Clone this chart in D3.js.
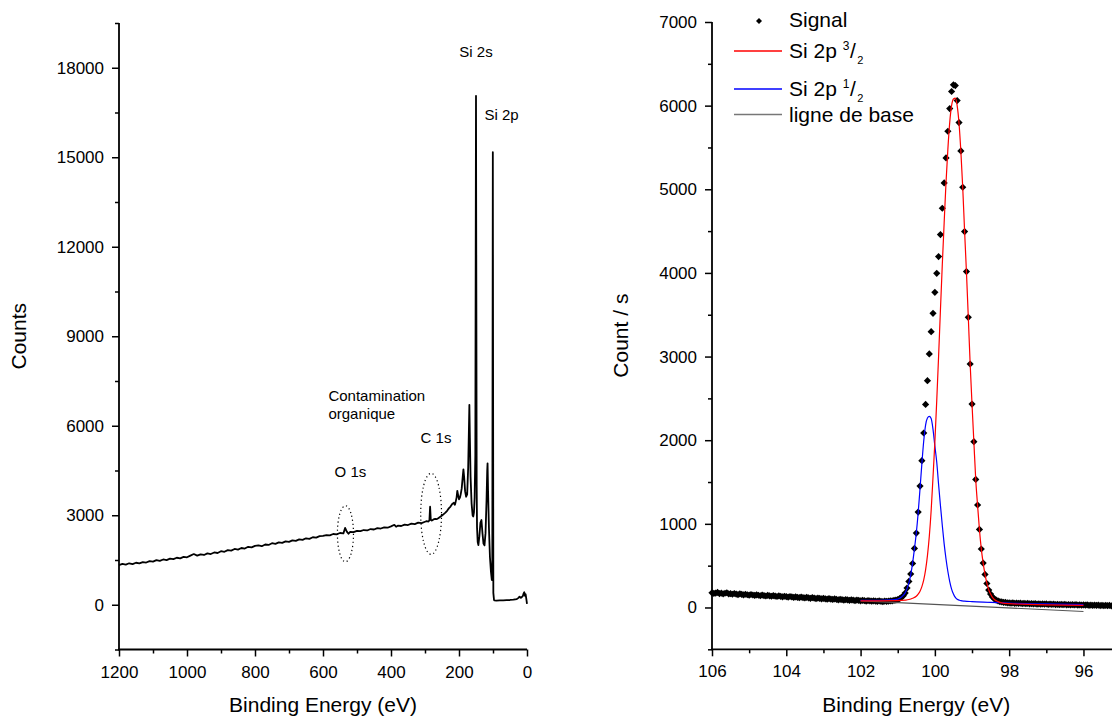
<!DOCTYPE html>
<html>
<head>
<meta charset="utf-8">
<script src="https://cdn.jsdelivr.net/npm/d3@7"></script>
<style>
  html, body { margin: 0; padding: 0; background: #fff; }
  svg { display: block; font-family: "Liberation Sans", Arial, sans-serif; }
</style>
</head>
<body>
<svg id="chart" width="1112" height="718"></svg>
<script>
// ---------- Survey spectrum (left panel) ----------
const surveyEnergy = [
  1200,1190,1180,1170,1160,1150,1140,1130,1120,1110,1100,1090,1080,1070,1060,1050,1040,1030,1020,1010,
  1000,990,980,970,960,950,940,930,920,910,900,890,880,870,860,850,840,830,820,810,
  800,790,780,770,760,750,740,730,720,710,700,690,680,670,660,650,640,630,620,610,
  600,590,580,570,560,550,540,535,530,525,520,510,500,490,480,470,460,450,440,430,
  420,410,400,390,385,380,370,360,350,340,330,320,310,300,
  295,290,287,285,283,280,275,270,265,260,255,250,245,240,235,230,225,220,215,212,
  210,207,205,203,200,197,195,192,189,187,185,182,179,176,173,171,169.5,168,166,163,
  160,158,156,154,152,150,148,147,145,143,140,137,134,131,128,125,122,119,117,116,
  114.5,112,109,106,103.5,102,100.5,99,97,96,90,80,70,60,50,40,30,25,22,20,
  18,15,12,10,8,6,4,2,0
];
const surveyCounts = [
  1330,1372,1345,1390,1362,1408,1388,1430,1415,1462,1448,1495,1470,1518,1497,1546,1528,1575,1556,1604,
  1590,1648,1700,1645,1690,1668,1722,1700,1752,1735,1795,1776,1832,1815,1870,1850,1902,1884,1942,1925,
  1975,1990,1962,2020,2005,2062,2040,2090,2072,2125,2110,2160,2140,2192,2176,2228,2210,2262,2250,2298,
  2310,2335,2325,2372,2360,2405,2392,2575,2450,2380,2445,2432,2478,2465,2505,2490,2538,2522,2568,2555,
  2596,2582,2628,2680,2615,2650,2640,2688,2672,2718,2705,2752,2738,2782,
  2800,2790,2830,3285,2850,2820,2860,2880,2870,2910,2950,2990,3040,3090,3150,3230,3290,3380,3420,3350,
  3440,3600,3820,3700,3530,3600,3700,3900,4300,4540,4300,3800,3620,3700,4600,5800,6700,5600,4300,3400,
  3000,2960,3100,3600,5000,17060,4000,2600,2100,2000,2300,2750,2840,2400,2050,1990,2400,3500,4500,4740,
  3800,2600,1600,1100,830,1500,15170,400,160,150,140,145,150,155,160,170,190,230,270,250,
  230,260,300,380,420,300,350,200,30
];

// peak labels: text, energy, count (baseline position), anchor
const surveyLabels = [
  { text: "Si 2s", e: 150, c: 18360, anchor: "middle" },
  { text: "Si 2p", e: 125, c: 16250, anchor: "start" },
  { text: "Contamination", e: 584, c: 6840, anchor: "start" },
  { text: "organique", e: 584, c: 6216, anchor: "start" },
  { text: "C 1s", e: 313, c: 5432, anchor: "start" },
  { text: "O 1s", e: 566, c: 4272, anchor: "start" }
];
// dotted ellipses around the contamination peaks: centre energy/count, half-widths
const contaminationZones = [
  { e: 534, c: 2380, de: 23.6, dc: 940 },
  { e: 282, c: 3047, de: 30.6, dc: 1358 }
];

const surveyXTicks = [1200, 1000, 800, 600, 400, 200, 0];
const surveyYTicks = [0, 3000, 6000, 9000, 12000, 15000, 18000];

// ---------- Si 2p high-resolution spectrum (right panel) ----------
const signalStart = 106, signalStep = 0.05;
const signalCounts = [
  // 106.00 -> 101.00
  175,168,172,180,166,171,163,170,176,162,165,158,167,160,154,163,157,150,158,152,
  147,155,149,144,151,146,140,148,142,137,145,139,134,141,136,131,138,132,127,134,
  129,124,131,126,120,127,122,117,124,119,114,121,115,110,117,112,107,113,108,103,
  110,104,99,106,100,96,102,97,92,98,93,89,95,90,86,92,87,83,89,84,
  80,86,81,77,83,78,75,80,76,73,78,74,71,76,73,75,78,80,84,88,
  95,
  // 100.95 -> 98.00
  105,120,140,172,232,311,400,526,706,890,1141,1452,1755,2086,2428,2712,3031,3298,3517,3768,
  3995,4195,4458,4773,5076,5375,5694,5965,6169,6249,6240,6061,5798,5459,5024,4494,4016,3469,2911,2432,
  1982,1531,1225,933,699,531,395,287,208,160,126,104,88,78,70,66,61,60,56,55,
  // 97.95 -> 95.00
  52,56,50,53,48,51,47,50,45,48,44,47,42,46,41,44,40,43,39,42,
  37,41,36,39,35,38,34,37,33,36,32,35,31,34,30,33,29,32,28,31,
  27,30,26,29,25,28,24,27,23,26,22,25,21,24,20,23,19,22,18,21
];

const fit32Energy = [102.0,101.5,101.0,100.8,100.7,100.6,100.5,100.45,100.4,100.35,100.3,100.25,100.2,100.15,100.1,100.05,100.0,99.95,99.9,99.85,
  99.8,99.75,99.7,99.65,99.6,99.55,99.5,99.45,99.4,99.35,99.3,99.25,99.2,99.15,99.1,99.05,99.0,98.95,98.9,98.85,
  98.8,98.75,98.7,98.65,98.6,98.55,98.5,98.45,98.4,98.3,98.2,98.0,97.5,97.0,96.5,96.0];
const fit32Counts = [80,80,82,88,95,110,135,160,195,250,330,450,620,850,1160,1560,1980,2470,3000,3560,
  4100,4600,5080,5480,5800,6000,6080,6090,6000,5790,5450,5020,4500,4010,3470,2910,2430,1980,1530,1220,
  930,700,530,395,290,210,160,120,95,70,55,45,38,32,28,25];

const fit12Energy = [102.0,101.5,101.2,101.0,100.9,100.8,100.75,100.7,100.65,100.6,100.55,100.5,100.45,100.4,100.35,100.3,100.25,100.2,100.15,100.1,
  100.05,100.0,99.95,99.9,99.85,99.8,99.75,99.7,99.65,99.6,99.55,99.5,99.45,99.4,99.3,99.2,99.0,98.5,98.0,97.0,96.0];
const fit12Counts = [86,86,90,100,125,175,225,295,390,530,700,890,1130,1420,1720,1990,2180,2265,2285,2260,
  2130,1930,1740,1470,1220,980,760,580,430,310,220,160,120,98,82,76,70,62,52,42,34];

const baselineEnergy = [102, 96];
const baselineCounts = [80, -48];

const siXTicks = [106, 104, 102, 100, 98, 96];
const siYTicks = [0, 1000, 2000, 3000, 4000, 5000, 6000, 7000];

// ---------- drawing ----------
const svg = d3.select("#chart");
const tickFont = 17, titleFont = 21;

function drawAxes(g, x, y, opt) {
  const [x0, x1] = x.range();
  const [yb, yt] = y.range();
  // minor ticks
  g.append("g").attr("transform", `translate(0,${yb})`)
    .call(d3.axisBottom(x).tickValues(opt.xMinor).tickSize(4).tickSizeOuter(0).tickFormat(""))
    .call(a => a.select(".domain").remove());
  g.append("g").attr("transform", `translate(${x0},0)`)
    .call(d3.axisLeft(y).tickValues(opt.yMinor).tickSize(4).tickSizeOuter(0).tickFormat(""))
    .call(a => a.select(".domain").remove());
  // major ticks with labels
  const xa = g.append("g").attr("transform", `translate(0,${yb})`)
    .call(d3.axisBottom(x).tickValues(opt.xMajor).tickSize(7).tickPadding(9).tickSizeOuter(0).tickFormat(d3.format("d")))
    .call(a => a.select(".domain").remove());
  const ya = g.append("g").attr("transform", `translate(${x0},0)`)
    .call(d3.axisLeft(y).tickValues(opt.yMajor).tickSize(7).tickPadding(8).tickSizeOuter(0).tickFormat(d3.format("d")))
    .call(a => a.select(".domain").remove());
  [xa, ya].forEach(a => a.selectAll("text").attr("font-size", tickFont).attr("font-family", "Liberation Sans, Arial, sans-serif").attr("fill", "#000"));
  g.selectAll(".tick line").attr("stroke", "#000").attr("stroke-width", 1.5);
  // axis lines
  g.append("line").attr("x1", x0).attr("x2", x0).attr("y1", yt).attr("y2", yb + 0.8)
    .attr("stroke", "#000").attr("stroke-width", 1.8);
  g.append("line").attr("x1", x0 - 0.8).attr("x2", x1).attr("y1", yb).attr("y2", yb)
    .attr("stroke", "#000").attr("stroke-width", 1.8);
  // titles
  g.append("text").attr("x", (x0 + x1) / 2).attr("y", 711.5)
    .attr("text-anchor", "middle").attr("font-size", titleFont).text(opt.xTitle);
  g.append("text").attr("transform", `translate(${opt.yTitleX},${(yb + yt) / 2}) rotate(-90)`)
    .attr("text-anchor", "middle").attr("font-size", titleFont).text(opt.yTitle);
}

// ----- left panel -----
const LX = d3.scaleLinear().domain([1200, 0]).range([119, 527]);
const LY = d3.scaleLinear().domain([-1500, 19500]).range([649.5, 23]);
const left = svg.append("g");
drawAxes(left, LX, LY, {
  xMajor: surveyXTicks, xMinor: d3.range(1100, 0, -200),
  yMajor: surveyYTicks, yMinor: [-1500, 1500, 4500, 7500, 10500, 13500, 16500, 19500],
  xTitle: "Binding Energy (eV)", yTitle: "Counts", yTitleX: 26
});

const survey = surveyEnergy.map((e, i) => [e, surveyCounts[i]]);
left.append("path").datum(survey)
  .attr("fill", "none").attr("stroke", "#000").attr("stroke-width", 1.8).attr("stroke-linejoin", "round")
  .attr("d", d3.line().x(d => LX(d[0])).y(d => LY(d[1])));

left.selectAll("ellipse.zone").data(contaminationZones).join("ellipse")
  .attr("cx", d => LX(d.e)).attr("cy", d => LY(d.c))
  .attr("rx", d => Math.abs(LX(d.e - d.de) - LX(d.e))).attr("ry", d => Math.abs(LY(d.c + d.dc) - LY(d.c)))
  .attr("fill", "none").attr("stroke", "#000").attr("stroke-width", 1.2)
  .attr("stroke-dasharray", "1.2,2.8");

left.selectAll("text.peak").data(surveyLabels).join("text")
  .attr("x", d => LX(d.e)).attr("y", d => LY(d.c))
  .attr("text-anchor", d => d.anchor).attr("font-size", 15).text(d => d.text);

// ----- right panel -----
const RX = d3.scaleLinear().domain([106, 95]).range([712, 1120.6]);
const RY = d3.scaleLinear().domain([-500, 7000]).range([649.3, 22]);
const right = svg.append("g");
drawAxes(right, RX, RY, {
  xMajor: siXTicks, xMinor: [105, 103, 101, 99, 97, 95],
  yMajor: siYTicks, yMinor: [-500, 500, 1500, 2500, 3500, 4500, 5500, 6500],
  xTitle: "Binding Energy (eV)", yTitle: "Count / s", yTitleX: 628
});

const baseline = baselineEnergy.map((e, i) => [e, baselineCounts[i]]);
const fit12 = fit12Energy.map((e, i) => [e, fit12Counts[i]]);
const fit32 = fit32Energy.map((e, i) => [e, fit32Counts[i]]);
const smooth = d3.line().x(d => RX(d[0])).y(d => RY(d[1])).curve(d3.curveMonotoneX);

const signal = signalCounts.map((c, i) => [signalStart - i * signalStep, c]);
const diamond = "M0,-3.6L3.6,0L0,3.6L-3.6,0Z";
right.append("g").selectAll("path").data(signal).join("path")
  .attr("d", diamond).attr("fill", "#000")
  .attr("transform", d => `translate(${RX(d[0])},${RY(d[1])})`);

right.append("path").datum(baseline).attr("fill", "none").attr("stroke", "#555").attr("stroke-width", 1.2)
  .attr("d", smooth);
right.append("path").datum(fit12).attr("fill", "none").attr("stroke", "#0000ff").attr("stroke-width", 1.2)
  .attr("d", smooth);
right.append("path").datum(fit32).attr("fill", "none").attr("stroke", "#ff0000").attr("stroke-width", 1.2)
  .attr("d", smooth);

// legend
const lg = right.append("g");
lg.append("path").attr("d", "M0,-3L3,0L0,3L-3,0Z").attr("fill", "#000").attr("transform", "translate(759,21)");
lg.append("text").attr("x", 789).attr("y", 27).attr("font-size", 21).text("Signal");

const legendLines = [
  { color: "#ff0000", y: 51, ty: 58, sup: "3" },
  { color: "#0000ff", y: 89, ty: 95.5, sup: "1" }
];
legendLines.forEach(l => {
  lg.append("line").attr("x1", 734).attr("x2", 782).attr("y1", l.y).attr("y2", l.y)
    .attr("stroke", l.color).attr("stroke-width", 1.3);
  const t = lg.append("text").attr("x", 789).attr("y", l.ty).attr("font-size", 21);
  t.append("tspan").text("Si 2p\u00a0");
  t.append("tspan").attr("dy", -8).attr("font-size", 12).text(l.sup);
  t.append("tspan").attr("dy", 8).attr("dx", 0.5).text("/");
  t.append("tspan").attr("dy", 6).attr("dx", 1.5).attr("font-size", 11).text("2");
});
lg.append("line").attr("x1", 734).attr("x2", 782).attr("y1", 114.5).attr("y2", 114.5)
  .attr("stroke", "#777").attr("stroke-width", 1.3);
lg.append("text").attr("x", 789).attr("y", 121.5).attr("font-size", 21).text("ligne de base");
</script>
</body>
</html>
